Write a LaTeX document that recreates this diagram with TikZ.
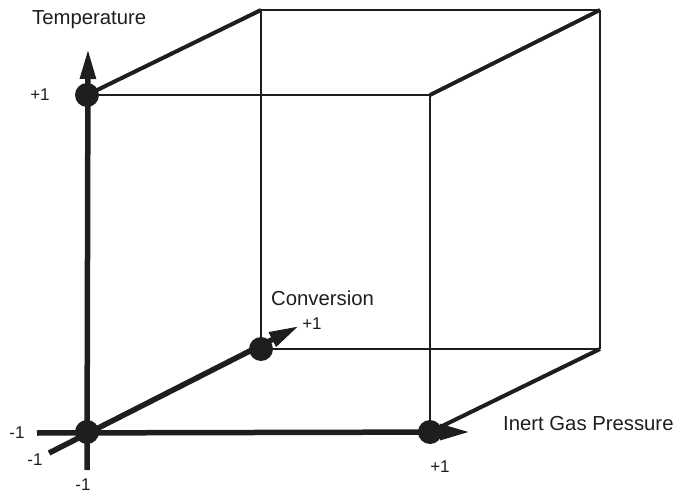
\documentclass[tikz,border=0pt]{standalone}
\usepackage{fontspec}
\setmainfont{Liberation Sans}
\usetikzlibrary{arrows.meta}
\definecolor{ink}{HTML}{1E1E1E}
\begin{document}
\begin{tikzpicture}[x=1pt,y=-1pt,
  dot/.style={circle,fill=ink,inner sep=0pt,minimum size=24pt},
  thinedge/.style={draw=ink,line width=2.3pt},
  midedge/.style={draw=ink,line width=4pt},
  axisline/.style={draw=ink,line width=5.5pt,-{Triangle[length=30pt,width=15pt]}},
  lbl/.style={text=ink,font=\fontsize{20.3}{22}\selectfont,inner sep=0pt},
  tick/.style={text=ink,font=\fontsize{17}{19}\selectfont,inner sep=0pt},
]
\useasboundingbox (0,0) rectangle (680,497);
% cube corners
\coordinate (A) at (87,432);
\coordinate (B) at (430,432);
\coordinate (C) at (87,95);
\coordinate (D) at (430,95);
\coordinate (E) at (261,349);
\coordinate (F) at (600,349);
\coordinate (G) at (261,10);
\coordinate (H) at (600,10);
% axis ends
\coordinate (tLow) at (87,470);
\coordinate (tTip) at (88,49);
\coordinate (pLow) at (37,433);
\coordinate (pTip) at (470,432);
\coordinate (cLow) at (49,453);
\coordinate (cTip) at (299,326);
% thin cube edges
\draw[thinedge] (C) -- (D);
\draw[thinedge] (D) -- (B);
\draw[thinedge] (G) -- (H);
\draw[thinedge] (G) -- (E);
\draw[thinedge] (E) -- (F);
\draw[thinedge] (H) -- (F);
% depth edges
\draw[midedge] (C) -- (G);
\draw[midedge] (D) -- (H);
\draw[midedge] (B) -- (F);
% axes
\draw[axisline] (tLow) -- (tTip);
\draw[axisline] (pLow) -- (pTip);
\draw[axisline] (cLow) -- (cTip);
% dots
\node[dot] (o) at (A) {};
\node[dot] (t1) at (C) {};
\node[dot] (c1) at (E) {};
\node[dot] (p1) at (B) {};
% labels
\node[lbl,anchor=west] (tl) at (32,20) {Temperature};
\node[lbl,anchor=west] (cl) at (271,298) {Conversion};
\node[lbl,anchor=west] (pl) at (503,424) {Inert Gas Pressure};
\node[tick] (tp) at (40,95) {+1};
\node[tick] (cp) at (312,324) {+1};
\node[tick] (pp) at (440,467) {+1};
\node[tick] (tm) at (17,433) {-1};
\node[tick] (cm) at (35,460) {-1};
\node[tick] (pm) at (83,485) {-1};
\end{tikzpicture}
\end{document}
